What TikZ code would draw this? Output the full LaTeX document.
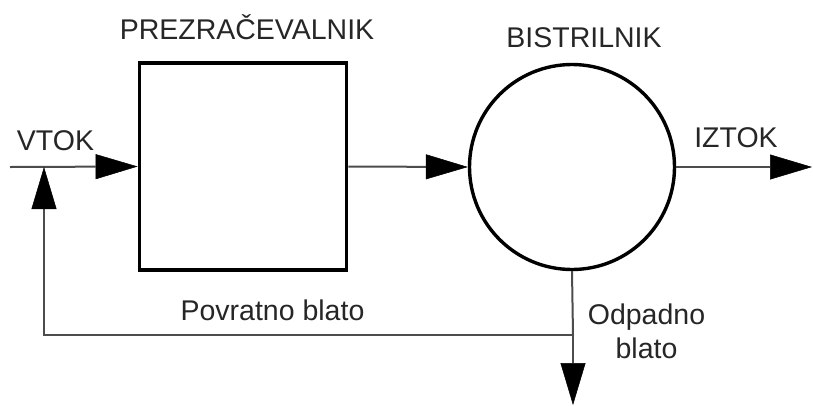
\documentclass[tikz,border=0pt]{standalone}
\usepackage{fontspec}
\setmainfont{Liberation Sans}
\usetikzlibrary{arrows.meta}

\begin{document}
\begin{tikzpicture}[x=1pt,y=-1pt,
  label text/.style={font=\fontsize{28.5}{34}\selectfont, text=black!85, inner sep=0pt},
  unit box/.style={draw=black, line width=3.8pt, minimum size=207pt, inner sep=0pt},
  unit circle/.style={circle, draw=black, line width=3.4pt, minimum size=205pt, inner sep=0pt},
  flow/.style={draw=black!70, line width=2pt},
  head/.style={-{Triangle[length=42pt,width=25pt,black,line width=0.5pt]}},
]
\useasboundingbox (0,0) rectangle (813,405);

% process units
\node[unit box] (pre) at (243,166.5) {};
\node[unit circle] (bis) at (572,167) {};

% unit captions
\node[label text, anchor=base] (tpre) at (247,39) {PREZRAČEVALNIK};
\node[label text, anchor=base] (tbis) at (584,47) {BISTRILNIK};

% free ends of the flow lines
\coordinate (inflow) at (10,167);
\coordinate (outflow) at (812,167);
\coordinate (split) at (573,335);
\coordinate (corner) at (44,335);
\coordinate (return) at (44,167);
\coordinate (waste) at (573,405);

% main flow
\draw[flow, head] (inflow) -- (pre.west);
\draw[flow, head] (pre.east) -- (bis.west);
\draw[flow, head] (bis.east) -- (outflow);

% sludge return and waste
\draw[flow] (bis.south) -- (split);
\draw[flow, head] (split) -- (corner) -- (return);
\draw[flow, head] (split) -- (waste);

% flow labels
\node[label text, anchor=base] (tin) at (55.5,150) {VTOK};
\node[label text, anchor=base] (tout) at (736,147) {IZTOK};
\node[label text, anchor=base] (tret) at (272.5,320) {Povratno blato};
\node[label text, anchor=base, align=center] (twaste) at (646.5,358) {Odpadno\\blato};
\end{tikzpicture}
\end{document}
